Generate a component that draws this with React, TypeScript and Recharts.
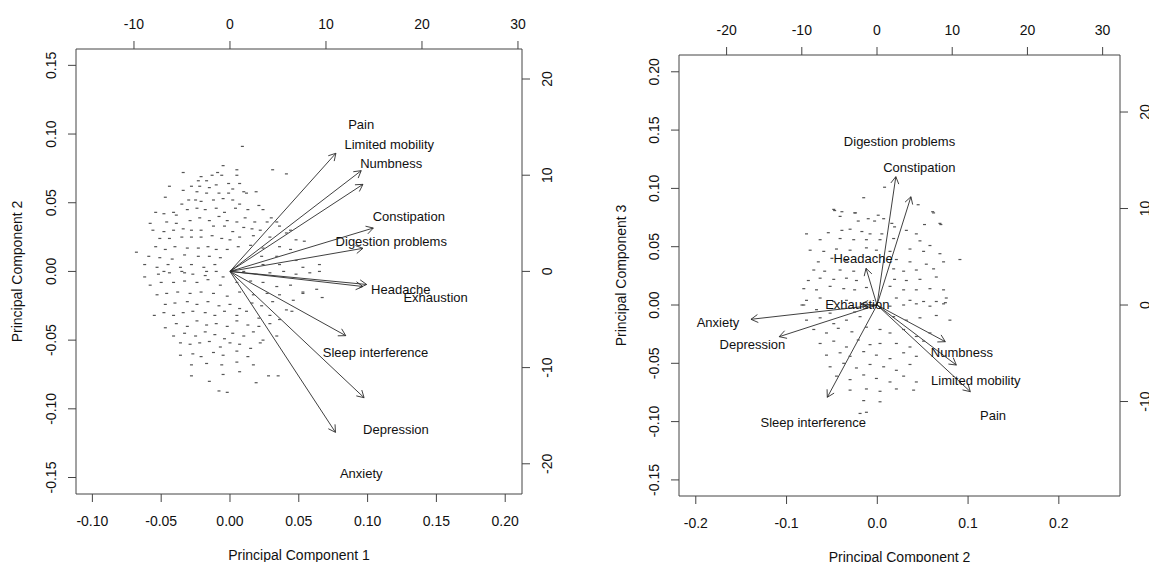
import { ScatterChart, Scatter, XAxis, YAxis, ReferenceLine } from "recharts";

const FONT = '"Liberation Sans", Arial, Helvetica, sans-serif';
const INK = "#111";
const AXIS = "#444";
const TICK_FONT = 14;
const LABEL_FONT = 13;

// ---------- left panel: PC1 (x) vs PC2 (y) ----------
const pc12Names = [
  "Pain",
  "Limited mobility",
  "Numbness",
  "Constipation",
  "Digestion problems",
  "Headache",
  "Exhaustion",
  "Sleep interference",
  "Depression",
  "Anxiety",
];
// arrow tips, in loading units (top / right axes)
const pc12Arrows: [number, number][] = [
  [11.03, 12.28], [13.67, 10.47], [13.85, 9.05], [14.93, 4.51], [13.85, 2.4],
  [14.24, -1.36], [13.85, -1.57], [12.06, -6.68], [13.97, -13.13], [10.99, -16.73],
];
const pc12Labels: [number, number][] = [
  [13.67, 15.32], [16.59, 13.16], [16.8, 11.2], [18.63, 5.66], [16.8, 3.16],
  [17.79, -1.88], [21.42, -2.72], [15.16, -8.45], [17.29, -16.45], [13.67, -20.99],
];
// observation scores (bottom / left axes)
const pc12Scores: [number, number][] = [
  [-0.005, 0.077], [-0.034, 0.072], [-0.009, 0.072], [0.005, 0.074], [0.031, 0.074], [0.041, 0.071],
  [-0.021, 0.069], [-0.013, 0.07], [-0.006, 0.07], [0.005, 0.07], [-0.023, 0.066], [-0.017, 0.066],
  [-0.01, 0.063], [-0.001, 0.064], [0.007, 0.064], [-0.044, 0.062], [-0.028, 0.062], [-0.022, 0.062],
  [-0.015, 0.061], [0.002, 0.06], [0.01, 0.058], [-0.047, 0.054], [-0.034, 0.059], [-0.024, 0.058],
  [-0.017, 0.057], [-0.008, 0.057], [-0.001, 0.057], [0.012, 0.057], [0.019, 0.058], [-0.03, 0.052],
  [-0.025, 0.052], [-0.021, 0.051], [-0.012, 0.052], [-0.005, 0.053], [0.002, 0.052], [0.007, 0.049],
  [0.021, 0.048], [-0.035, 0.049], [-0.041, 0.043], [-0.054, 0.043], [-0.048, 0.042], [-0.039, 0.041],
  [-0.031, 0.045], [-0.024, 0.046], [-0.018, 0.045], [-0.01, 0.046], [-0.004, 0.043], [0.004, 0.046],
  [0.013, 0.045], [0.024, 0.045], [0.03, 0.039], [0.034, 0.036], [-0.058, 0.035], [-0.046, 0.036],
  [-0.039, 0.035], [-0.029, 0.037], [-0.022, 0.039], [-0.015, 0.037], [-0.008, 0.04], [-0.002, 0.037],
  [0.005, 0.036], [0.011, 0.039], [0.018, 0.036], [0.027, 0.036], [-0.056, 0.03], [-0.048, 0.029],
  [-0.041, 0.03], [-0.034, 0.031], [-0.028, 0.03], [-0.021, 0.03], [-0.012, 0.033], [-0.004, 0.033],
  [0.002, 0.029], [0.01, 0.032], [0.016, 0.031], [0.022, 0.03], [0.036, 0.033], [0.044, 0.03],
  [-0.051, 0.024], [-0.044, 0.024], [-0.035, 0.025], [-0.028, 0.025], [-0.021, 0.025], [-0.013, 0.026],
  [-0.006, 0.024], [0.0, 0.023], [0.007, 0.025], [0.017, 0.026], [0.029, 0.025], [0.041, 0.028],
  [0.048, 0.023], [0.054, 0.022], [-0.068, 0.014], [-0.054, 0.018], [-0.047, 0.016], [-0.04, 0.018],
  [-0.031, 0.017], [-0.023, 0.017], [-0.016, 0.018], [-0.01, 0.016], [-0.002, 0.016], [0.006, 0.018],
  [0.015, 0.019], [0.024, 0.017], [0.036, 0.018], [0.044, 0.016], [-0.059, 0.011], [-0.051, 0.01],
  [-0.042, 0.009], [-0.033, 0.012], [-0.023, 0.011], [-0.015, 0.011], [-0.007, 0.01], [0.023, 0.011],
  [0.034, 0.011], [0.048, 0.008], [-0.062, 0.005], [-0.053, 0.003], [-0.045, 0.005], [-0.036, 0.003],
  [-0.028, 0.005], [-0.019, 0.003], [-0.011, 0.005], [0.024, 0.005], [0.036, 0.005], [0.053, 0.003],
  [0.065, 0.005], [-0.048, 0.0], [-0.033, -0.001], [-0.017, 0.0], [0.009, 0.091],
  [-0.062, -0.004], [-0.052, -0.002], [-0.044, -0.001], [-0.035, 0.0], [-0.027, -0.002], [-0.018, -0.003],
  [-0.01, 0.0], [-0.005, -0.004], [0.01, 0.0], [0.019, -0.002], [0.029, -0.001], [0.039, 0.0],
  [0.048, -0.002], [0.058, -0.001], [0.065, 0.0], [-0.058, -0.01], [-0.05, -0.008], [-0.041, -0.008],
  [-0.033, -0.007], [-0.024, -0.008], [-0.016, -0.006], [-0.007, -0.01], [0.005, -0.008], [0.015, -0.007],
  [0.024, -0.008], [0.034, -0.011], [0.044, -0.01], [0.053, -0.015], [0.063, -0.013], [0.067, -0.019],
  [-0.053, -0.017], [-0.046, -0.016], [-0.038, -0.015], [-0.029, -0.016], [-0.021, -0.015], [-0.012, -0.016],
  [-0.002, -0.018], [0.007, -0.015], [0.017, -0.017], [0.027, -0.016], [0.036, -0.017], [0.046, -0.021],
  [0.053, -0.016], [-0.055, -0.032], [-0.047, -0.024], [-0.04, -0.023], [-0.031, -0.022], [-0.024, -0.024],
  [-0.016, -0.022], [-0.008, -0.025], [0.0, -0.024], [0.007, -0.027], [0.016, -0.023], [0.023, -0.025],
  [0.031, -0.022], [0.041, -0.028], [-0.048, -0.03], [-0.041, -0.032], [-0.034, -0.03], [-0.027, -0.029],
  [-0.018, -0.03], [-0.011, -0.032], [-0.004, -0.029], [0.005, -0.032], [0.012, -0.029], [0.021, -0.034],
  [0.029, -0.032], [0.036, -0.035], [0.045, -0.029], [-0.047, -0.041], [-0.039, -0.038], [-0.031, -0.04],
  [-0.024, -0.036], [-0.017, -0.039], [-0.01, -0.038], [-0.002, -0.04], [0.005, -0.036], [0.013, -0.039],
  [0.021, -0.04], [0.029, -0.038], [-0.041, -0.047], [-0.033, -0.045], [-0.025, -0.047], [-0.018, -0.044],
  [-0.011, -0.046], [-0.004, -0.049], [0.002, -0.045], [0.01, -0.047], [0.017, -0.044], [0.024, -0.05],
  [0.034, -0.047], [-0.036, -0.052], [-0.029, -0.053], [-0.022, -0.052], [-0.015, -0.051], [-0.007, -0.055],
  [0.0, -0.052], [0.007, -0.053], [0.015, -0.056], [0.022, -0.052], [-0.036, -0.061], [-0.027, -0.06],
  [-0.021, -0.062], [-0.012, -0.059], [-0.005, -0.061], [0.005, -0.058], [0.013, -0.062], [-0.028, -0.068],
  [-0.017, -0.067], [-0.006, -0.068], [0.005, -0.066], [0.017, -0.068], [-0.028, -0.076], [-0.015, -0.08],
  [-0.005, -0.075], [0.007, -0.073], [0.019, -0.081], [0.028, -0.076], [0.035, -0.076], [-0.008, -0.087],
  [-0.002, -0.088],
];
const pc12BottomTicks = [-0.1, -0.05, 0, 0.05, 0.1, 0.15, 0.2];
const pc12LeftTicks = [-0.15, -0.1, -0.05, 0, 0.05, 0.1, 0.15];
const pc12TopTicks = [-10, 0, 10, 20, 30];
const pc12RightTicks = [-20, -10, 0, 10, 20];

// ---------- right panel: PC2 (x) vs PC3 (y) ----------
const pc23Names = [
  "Digestion problems",
  "Constipation",
  "Headache",
  "Exhaustion",
  "Anxiety",
  "Depression",
  "Numbness",
  "Limited mobility",
  "Pain",
  "Sleep interference",
];
const pc23Arrows: [number, number][] = [
  [2.5, 13.3], [4.51, 11.22], [-1.46, 3.8], [-2.13, 0.1], [-16.76, -1.48],
  [-13.0, -3.28], [9.08, -3.8], [10.55, -6.22], [12.41, -8.98], [-6.61, -9.56],
];
const pc23Labels: [number, number][] = [
  [2.99, 16.92], [5.63, 14.23], [-1.86, 4.84], [-2.62, 0.1], [-21.14, -1.79],
  [-16.56, -4.04], [11.28, -4.87], [13.14, -7.77], [15.43, -11.4], [-8.47, -12.16],
];
const pc23Scores: [number, number][] = [
  [-0.015, 0.092], [-0.048, 0.082], [-0.039, 0.08], [-0.025, 0.079], [-0.041, 0.076], [0.001, 0.077],
  [0.007, 0.074], [0.062, 0.079], [-0.01, 0.074], [-0.021, 0.072], [-0.003, 0.072], [0.016, 0.07],
  [0.052, 0.069], [0.069, 0.07], [-0.078, 0.061], [-0.054, 0.062], [-0.039, 0.064], [-0.03, 0.065],
  [-0.017, 0.063], [-0.008, 0.061], [0.005, 0.061], [0.032, 0.064], [0.043, 0.061], [0.019, 0.067],
  [-0.063, 0.056], [-0.041, 0.057], [-0.026, 0.056], [-0.012, 0.056], [0.003, 0.056], [0.018, 0.057],
  [0.047, 0.055], [0.058, 0.051], [-0.074, 0.047], [-0.059, 0.046], [-0.045, 0.048], [-0.03, 0.047],
  [-0.012, 0.049], [-0.001, 0.047], [0.014, 0.046], [0.036, 0.048], [0.051, 0.046], [0.069, 0.044],
  [-0.065, 0.037], [-0.05, 0.04], [-0.034, 0.038], [0.021, 0.039], [0.036, 0.037], [0.054, 0.035],
  [0.073, 0.037], [0.091, 0.039], [-0.07, 0.03], [-0.058, 0.029], [-0.041, 0.03], [-0.026, 0.029],
  [0.018, 0.031], [0.029, 0.029], [0.043, 0.03], [0.062, 0.031], [-0.076, 0.021], [-0.063, 0.023],
  [-0.048, 0.022], [-0.034, 0.023], [-0.023, 0.021], [0.019, 0.022], [0.032, 0.021], [0.047, 0.022],
  [0.065, 0.024], [-0.081, 0.014], [-0.067, 0.013], [-0.052, 0.016], [-0.037, 0.014], [-0.025, 0.013],
  [-0.012, 0.015], [0.014, 0.016], [0.029, 0.013], [0.043, 0.013], [0.058, 0.014], [0.073, 0.013],
  [-0.078, 0.004], [-0.063, 0.006], [-0.048, 0.003], [-0.034, 0.004], [0.021, 0.006], [0.036, 0.004],
  [0.051, 0.003], [0.065, 0.003], [0.076, 0.006], [0.008, 0.101], [0.045, 0.086], [0.061, 0.08],
  [0.07, 0.069], [-0.047, 0.081], [-0.024, 0.079],
  [-0.081, 0.0], [-0.067, -0.004], [-0.052, -0.007], [-0.037, -0.003], [-0.025, -0.006], [0.014, -0.001],
  [0.029, 0.0], [0.043, 0.001], [0.058, -0.001], [0.073, 0.001], [-0.078, -0.013], [-0.063, -0.011],
  [-0.048, -0.016], [-0.034, -0.013], [-0.019, -0.01], [0.018, -0.01], [0.032, -0.013], [0.047, -0.011],
  [0.065, -0.009], [0.08, -0.013], [-0.07, -0.021], [-0.056, -0.024], [-0.043, -0.02], [-0.028, -0.023],
  [-0.012, -0.019], [0.003, -0.021], [0.014, -0.024], [0.029, -0.021], [0.043, -0.027], [0.058, -0.024],
  [-0.063, -0.033], [-0.048, -0.031], [-0.034, -0.036], [-0.021, -0.03], [-0.008, -0.034], [0.003, -0.033],
  [0.021, -0.033], [0.036, -0.036], [0.051, -0.031], [-0.056, -0.043], [-0.041, -0.041], [-0.03, -0.044],
  [-0.015, -0.04], [-0.001, -0.043], [0.014, -0.046], [0.029, -0.041], [0.043, -0.044], [-0.052, -0.053],
  [-0.037, -0.05], [-0.023, -0.054], [-0.008, -0.051], [0.007, -0.053], [0.021, -0.056], [0.036, -0.051],
  [-0.045, -0.061], [-0.03, -0.064], [-0.015, -0.06], [-0.001, -0.063], [0.014, -0.066], [0.029, -0.061],
  [0.043, -0.066], [-0.03, -0.073], [-0.012, -0.072], [0.003, -0.074], [0.021, -0.072], [0.04, -0.073],
  [-0.015, -0.082], [0.003, -0.083], [-0.012, -0.092], [-0.019, -0.093], [-0.083, 0.0], [0.075, 0.002],
];
const pc23BottomTicks = [-0.2, -0.1, 0, 0.1, 0.2];
const pc23LeftTicks = [-0.15, -0.1, -0.05, 0, 0.05, 0.1, 0.15, 0.2];
const pc23TopTicks = [-20, -10, 0, 10, 20, 30];
const pc23RightTicks = [-10, 0, 10, 20];

const fmt = (v: number, digits: number) => (digits === 0 ? String(v) : v.toFixed(digits));

const HTick = ({ x, y, payload, shift, digits }: any) => (
  <text x={x} y={y + shift} textAnchor="middle" dominantBaseline="central" fontSize={TICK_FONT} fontFamily={FONT} fill={INK}>
    {fmt(payload.value, digits)}
  </text>
);

const VTick = ({ x, y, payload, shift, digits }: any) => {
  const cx = x + shift;
  return (
    <text
      x={cx}
      y={y}
      transform={`rotate(-90 ${cx} ${y})`}
      textAnchor="middle"
      dominantBaseline="central"
      fontSize={TICK_FONT}
      fontFamily={FONT}
      fill={INK}
    >
      {fmt(payload.value, digits)}
    </text>
  );
};

const Dash = (p: any) => <rect x={p.cx - 1.5} y={p.cy - 0.6} width={3} height={1.2} fill="#555" />;

const VarLabel = (p: any) => (
  <text x={p.cx} y={p.cy} textAnchor="middle" dominantBaseline="central" fontSize={LABEL_FONT} fontFamily={FONT} fill={INK}>
    {p.payload.name}
  </text>
);

// open arrow head like R's arrows(length = 0.1)
const Arrow = (p: any) => {
  const { x1, y1, x2, y2 } = p;
  const a = Math.atan2(y2 - y1, x2 - x1);
  const len = 8;
  const spread = Math.PI / 6;
  const hx1 = x2 - len * Math.cos(a - spread);
  const hy1 = y2 - len * Math.sin(a - spread);
  const hx2 = x2 - len * Math.cos(a + spread);
  const hy2 = y2 - len * Math.sin(a + spread);
  return (
    <path
      d={`M${x1},${y1}L${x2},${y2}M${hx1},${hy1}L${x2},${y2}L${hx2},${hy2}`}
      stroke="#2a2a2a"
      strokeWidth={0.9}
      fill="none"
    />
  );
};

interface BiplotProps {
  width: number;
  height: number;
  frame: { top: number; right: number; bottom: number; left: number };
  names: string[];
  arrows: [number, number][];
  labels: [number, number][];
  scores: [number, number][];
  ticks: { bottom: number[]; left: number[]; top: number[]; right: number[] };
  domains: { bottom: [number, number]; left: [number, number]; top: [number, number]; right: [number, number] };
  digits: { bottom: number; left: number };
  xTitle: string;
  yTitle: string;
  xTitleOffset: number;
  yTitleOffset: number;
}

function Biplot(props: BiplotProps) {
  const { width, height, frame, names, arrows, labels, scores, ticks, domains, digits } = props;
  const scoreData = scores.map(([x, y]) => ({ x, y }));
  const labelData = labels.map(([x, y], i) => ({ x, y, name: names[i] }));
  const axisCommon = {
    type: "number" as const,
    allowDataOverflow: true,
    interval: 0 as const,
    tickSize: 8,
    axisLine: { stroke: AXIS },
    tickLine: { stroke: AXIS },
  };

  return (
    <ScatterChart width={width} height={height} margin={{ top: 0, right: 0, bottom: 0, left: 0 }}>
      <XAxis
        {...axisCommon}
        xAxisId="pc"
        dataKey="x"
        orientation="bottom"
        height={frame.bottom}
        domain={domains.bottom}
        ticks={ticks.bottom}
        tick={(p: any) => <HTick {...p} shift={16.5} digits={digits.bottom} />}
        label={(lp: any) => (
          <text
            x={lp.viewBox.x + lp.viewBox.width / 2}
            y={lp.viewBox.y + props.xTitleOffset}
            textAnchor="middle"
            dominantBaseline="central"
            fontSize={TICK_FONT}
            fontFamily={FONT}
            fill={INK}
          >
            {props.xTitle}
          </text>
        )}
      />
      <XAxis
        {...axisCommon}
        xAxisId="load"
        dataKey="x"
        orientation="top"
        height={frame.top}
        domain={domains.top}
        ticks={ticks.top}
        tick={(p: any) => <HTick {...p} shift={-15.5} digits={0} />}
      />
      <YAxis
        {...axisCommon}
        yAxisId="pc"
        dataKey="y"
        orientation="left"
        width={frame.left}
        domain={domains.left}
        ticks={ticks.left}
        tick={(p: any) => <VTick {...p} shift={-14.5} digits={digits.left} />}
        label={(lp: any) => {
          const cx = lp.viewBox.x + props.yTitleOffset;
          const cy = lp.viewBox.y + lp.viewBox.height / 2;
          return (
            <text
              x={cx}
              y={cy}
              transform={`rotate(-90 ${cx} ${cy})`}
              textAnchor="middle"
              dominantBaseline="central"
              fontSize={TICK_FONT}
              fontFamily={FONT}
              fill={INK}
            >
              {props.yTitle}
            </text>
          );
        }}
      />
      <YAxis
        {...axisCommon}
        yAxisId="load"
        dataKey="y"
        orientation="right"
        width={frame.right}
        domain={domains.right}
        ticks={ticks.right}
        tick={(p: any) => <VTick {...p} shift={15.5} digits={0} />}
      />
      <Scatter xAxisId="pc" yAxisId="pc" data={scoreData} shape={Dash} isAnimationActive={false} />
      {arrows.map(([x, y], i) => (
        <ReferenceLine
          key={names[i]}
          xAxisId="load"
          yAxisId="load"
          segment={[{ x: 0, y: 0 }, { x, y }]}
          shape={Arrow}
        />
      ))}
      <Scatter xAxisId="load" yAxisId="load" data={labelData} shape={VarLabel} isAnimationActive={false} />
    </ScatterChart>
  );
}

export default function App() {
  return (
    <div
      style={{
        position: "absolute",
        left: 0,
        top: 0,
        width: 1149,
        height: 562,
        overflow: "hidden",
        background: "#fff",
      }}
    >
      <div style={{ position: "absolute", left: 0, top: 0 }}>
        <Biplot
          width={575}
          height={562}
          frame={{ top: 49, right: 53, bottom: 68, left: 76 }}
          names={pc12Names}
          arrows={pc12Arrows}
          labels={pc12Labels}
          scores={pc12Scores}
          ticks={{ bottom: pc12BottomTicks, left: pc12LeftTicks, top: pc12TopTicks, right: pc12RightTicks }}
          domains={{ bottom: [-0.1119, 0.2122], left: [-0.162, 0.1619], top: [-16.04, 30.42], right: [-23.14, 23.12] }}
          digits={{ bottom: 2, left: 2 }}
          xTitle="Principal Component 1"
          yTitle="Principal Component 2"
          xTitleOffset={61}
          yTitleOffset={16.5}
        />
      </div>
      <div style={{ position: "absolute", left: 575, top: 0 }}>
        <Biplot
          width={600}
          height={562}
          frame={{ top: 55, right: 55, bottom: 66, left: 104 }}
          names={pc23Names}
          arrows={pc23Arrows}
          labels={pc23Labels}
          scores={pc23Scores}
          ticks={{ bottom: pc23BottomTicks, left: pc23LeftTicks, top: pc23TopTicks, right: pc23RightTicks }}
          domains={{ bottom: [-0.2185, 0.2674], left: [-0.1638, 0.2144], top: [-26.33, 32.31], right: [-19.79, 25.91] }}
          digits={{ bottom: 1, left: 2 }}
          xTitle="Principal Component 2"
          yTitle="Principal Component 3"
          xTitleOffset={61}
          yTitleOffset={46}
        />
      </div>
    </div>
  );
}
